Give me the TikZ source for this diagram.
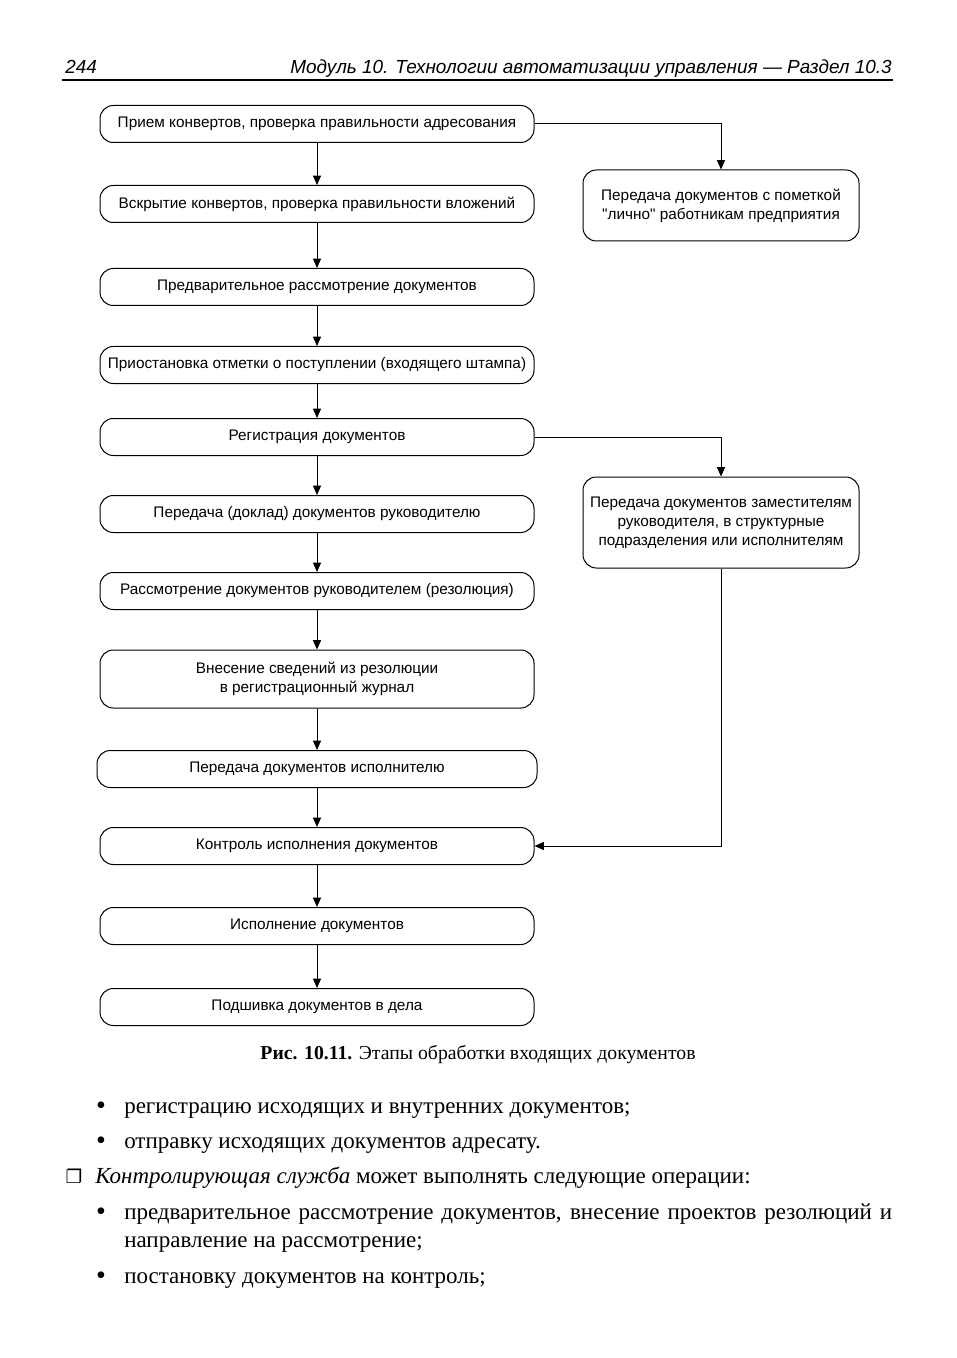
\documentclass[tikz,border=0pt]{standalone}
\usepackage{fontspec}
\setmainfont{Liberation Serif}
\newfontfamily\flowfont{Liberation Sans}
\newfontfamily\symfont{DejaVu Sans}
\usetikzlibrary{arrows.meta}
\begin{document}
\begin{tikzpicture}[x=0.75pt,y=-0.75pt,
  box/.style={draw, line width=0.75pt, rounded corners=10pt, minimum width=325.5pt, minimum height=27.75pt, inner sep=0pt, align=center, font=\flowfont\fontsize{11.5}{14.2}\selectfont},
  rbox/.style={box, minimum width=207pt},
  arr/.style={line width=0.75pt, -{Triangle[width=6pt,length=7pt]}},
  body/.style={anchor=base west, inner sep=0pt, font=\fontsize{17.25}{21}\selectfont},
  bul/.style={anchor=base, inner sep=0pt, font=\fontsize{21}{21}\selectfont}]
\useasboundingbox (0,0) rectangle (956,1358);
% header
\node[anchor=base west, inner sep=0pt, font=\flowfont\itshape\fontsize{14.2}{16}\selectfont] (pg) at (65,74) {244};
\node[anchor=base east, inner sep=0pt, font=\flowfont\itshape\fontsize{14.2}{16}\selectfont] (ttl) at (892,74) {Модуль 10. Технологии автоматизации управления — Раздел 10.3};
\draw[line width=1.1pt] (62,80) -- (893,80);
% flowchart
\node[box] (b1) at (317,124) {Прием конвертов, проверка правильности адресования};
\node[box] (b2) at (317,204) {Вскрытие конвертов, проверка правильности вложений};
\node[box] (b3) at (317,287) {Предварительное рассмотрение документов};
\node[box] (b4) at (317,365) {Приостановка отметки о поступлении (входящего штампа)};
\node[box] (b5) at (317,437) {Регистрация документов};
\node[box] (b6) at (317,514) {Передача (доклад) документов руководителю};
\node[box] (b7) at (317,591) {Рассмотрение документов руководителем (резолюция)};
\node[box, minimum height=43.5pt] (b8) at (317,679) {Внесение сведений из резолюции\\в регистрационный журнал};
\node[box, minimum width=330pt] (b9) at (317,769) {Передача документов исполнителю};
\node[box] (b10) at (317,846) {Контроль исполнения документов};
\node[box] (b11) at (317,926) {Исполнение документов};
\node[box] (b12) at (317,1007) {Подшивка документов в дела};
\node[rbox, minimum height=53.25pt] (r1) at (721,205.5) {Передача документов с пометкой\\"лично" работникам предприятия};
\node[rbox, minimum height=68.25pt] (r2) at (721,522.5) {Передача документов заместителям\\руководителя, в структурные\\подразделения или исполнителям};
\draw[arr] (b1) -- (b2);
\draw[arr] (b2) -- (b3);
\draw[arr] (b3) -- (b4);
\draw[arr] (b4) -- (b5);
\draw[arr] (b5) -- (b6);
\draw[arr] (b6) -- (b7);
\draw[arr] (b7) -- (b8);
\draw[arr] (b8) -- (b9);
\draw[arr] (b9) -- (b10);
\draw[arr] (b10) -- (b11);
\draw[arr] (b11) -- (b12);
\draw[arr] (b1.east) -| (r1.north);
\draw[arr] (b5.east) -| (r2.north);
\draw[arr] (r2.south) |- (b10.east);
% caption
\node[anchor=base, inner sep=0pt, font=\fontsize{14.8}{17}\selectfont] (cap) at (478,1059) {\textbf{Рис. 10.11.} Этапы обработки входящих документов};
% body text
\node[bul] (u1) at (101,1114) {•};
\node[body] (t1) at (124,1113) {регистрацию исходящих и внутренних документов;};
\node[bul] (u2) at (101,1149) {•};
\node[body] (t2) at (124,1148) {отправку исходящих документов адресату.};
\node[anchor=base, inner sep=0pt, font=\symfont\fontsize{14}{16}\selectfont] (sq) at (74,1183) {❐};
\node[body] (t3) at (95,1183) {\textit{Контролирующая служба} может выполнять следующие операции:};
\node[bul] (u3) at (101,1220) {•};
\node[body] (t4) at (124,1219) {\makebox[576pt][s]{предварительное рассмотрение документов, внесение проектов резолюций и}};
\node[body] (t5) at (124,1247) {направление на рассмотрение;};
\node[bul] (u4) at (101,1284) {•};
\node[body] (t6) at (124,1283) {постановку документов на контроль;};
\end{tikzpicture}
\end{document}
